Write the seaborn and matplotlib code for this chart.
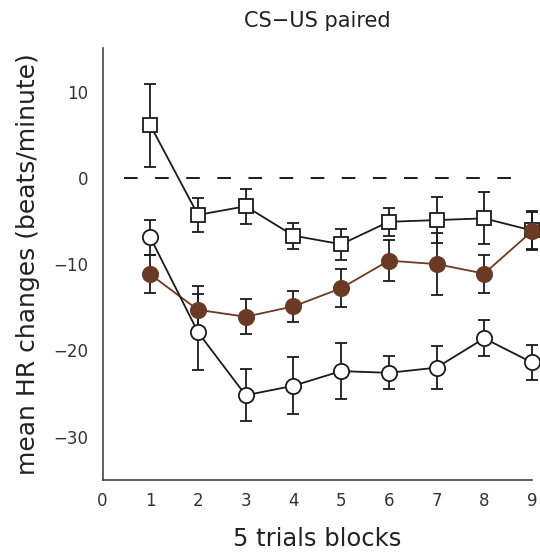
import pandas as pd
import matplotlib
matplotlib.use("Agg")
import matplotlib.pyplot as plt
import seaborn as sns

# Values
blocks = [1, 2, 3, 4, 5, 6, 7, 8, 9]
squares_mean = [6.1, -4.3, -3.3, -6.7, -7.7, -5.1, -4.9, -4.7, -6.1]
squares_err = [4.8, 2.0, 2.0, 1.5, 1.8, 1.6, 2.7, 3.0, 2.2]
filled_mean = [-11.2, -15.3, -16.1, -14.9, -12.8, -9.6, -10.0, -11.1, -6.2]
filled_err = [2.2, 2.8, 2.0, 1.8, 2.2, 2.4, 3.6, 2.2, 2.2]
open_mean = [-6.9, -17.9, -25.2, -24.1, -22.4, -22.6, -22.0, -18.6, -21.4]
open_err = [2.0, 4.4, 3.0, 3.3, 3.2, 1.9, 2.5, 2.1, 2.0]

yticks = [-30, -20, -10, 0, 10]
xticks = [0, 1, 2, 3, 4, 5, 6, 7, 8, 9]

BROWN = "#6b3a24"
DARK = "#1a1a1a"

sns.set_style("white")
plt.rcParams["font.family"] = ["DejaVu Sans"]

fig = plt.figure(figsize=(5.4, 5.56), dpi=100)
ax = fig.add_axes([0.19, 0.137, 0.795, 0.776])

# zero reference line
ax.axhline(0, color=DARK, lw=1.4, ls=(0, (7, 9)), xmin=0.05, xmax=0.965, zorder=1)

series = [
    (squares_mean, squares_err, "s", "white", DARK),
    (filled_mean, filled_err, "o", BROWN, BROWN),
    (open_mean, open_err, "o", "white", DARK),
]

for mean, err, marker, face, edge in series:
    df = pd.DataFrame({"block": blocks, "hr": mean})
    ax.errorbar(blocks, mean, yerr=err, fmt="none", ecolor=DARK, elinewidth=1.3,
                capsize=4, capthick=1.3, zorder=2, clip_on=False)
    sns.lineplot(data=df, x="block", y="hr", ax=ax, color=edge, lw=1.3,
                 marker=marker, markersize=11 if marker == "o" else 10,
                 markerfacecolor=face, markeredgecolor=DARK if face == "white" else BROWN,
                 markeredgewidth=1.3, zorder=3, clip_on=False)

ax.set_xlim(0, 9)
ax.set_ylim(-35, 15)
ax.set_xticks(xticks)
ax.set_yticks(yticks)
ax.tick_params(direction="in", length=7, width=1.2, labelsize=12, colors="#333333",
               pad=10)
ax.tick_params(axis="x", pad=9)

for side in ["top", "right"]:
    ax.spines[side].set_visible(False)
for side in ["left", "bottom"]:
    ax.spines[side].set_color("#444444")
    ax.spines[side].set_linewidth(1.2)

ax.set_xlabel("5 trials blocks", fontsize=17.5, labelpad=12, color="#222222")
ax.set_ylabel("mean HR changes (beats/minute)", fontsize=18, labelpad=10, color="#222222")
fig.text(0.587, 0.962, "CS\u2212US paired", ha="center", va="center", fontsize=15,
         color="#222222")

fig.savefig("out.png", dpi=100)
